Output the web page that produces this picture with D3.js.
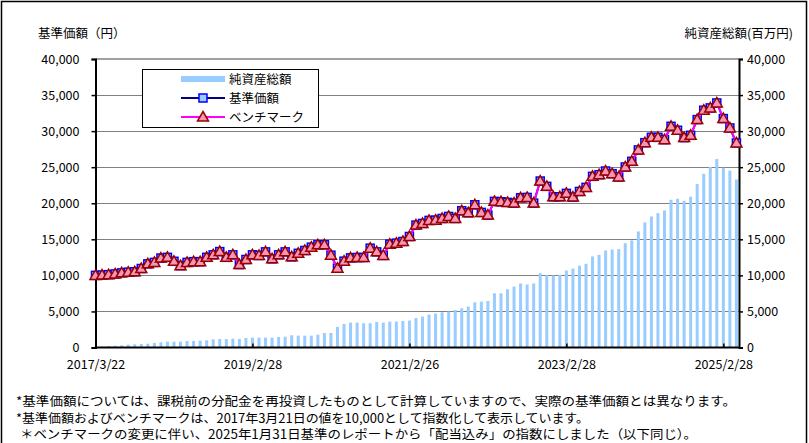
<!DOCTYPE html>
<html>
<head>
<meta charset="utf-8">
<script src="https://cdn.jsdelivr.net/npm/d3@7"></script>
<style>
  body { margin: 0; background: #fff; }
  text { font-family: "Noto Sans CJK JP", "Noto Sans", sans-serif; fill: #000; }
</style>
</head>
<body>
<div id="chart"></div>
<script>
// monthly values, first point is the launch date, then month ends up to 2025/4
const navValues = [
  10000, 10050, 10100, 10200, 10350, 10450, 10500, 10950, 11600, 11800,
  12400, 12500, 11950, 11350, 11800, 11900, 11900, 12500, 12850, 13300,
  12500, 12850, 11500, 12200, 12850, 12760, 13260, 12290, 12850, 13260,
  12570, 13060, 13450, 13910, 14240, 14240, 12800, 11000, 11970, 12430,
  12480, 12480, 13770, 13260, 12760, 14330, 14470, 14700, 15390, 16970,
  17200, 17620, 17660, 17890, 18170, 17890, 18960, 18680, 19790, 18730,
  18360, 20260, 20210, 20120, 20020, 20760, 20810, 20020, 23080, 22340,
  20900, 20900, 21370, 20850, 21640, 22200, 23730, 23960, 24470, 24100,
  23640, 25030, 25810, 27390, 28400, 29140, 29140, 28820, 30670, 30120,
  29100, 29420, 31600, 32900, 33220, 33910, 31740, 30440, 28360
];
const benchValues = [
  10000, 10050, 10100, 10200, 10350, 10450, 10500, 10950, 11600, 11800,
  12400, 12500, 11950, 11350, 11800, 11900, 11900, 12500, 12850, 13300,
  12500, 12850, 11500, 12200, 12850, 12760, 13260, 12290, 12850, 13260,
  12570, 13060, 13450, 13910, 14240, 14240, 12800, 11000, 11970, 12430,
  12480, 12480, 13770, 13260, 12760, 14330, 14470, 14700, 15390, 16970,
  17200, 17620, 17660, 17890, 18170, 17890, 18960, 18680, 19790, 18730,
  18360, 20260, 20210, 20120, 20020, 20760, 20810, 20020, 23080, 22340,
  20900, 20900, 21370, 20850, 21640, 22200, 23730, 23960, 24470, 24100,
  23640, 25030, 25810, 27390, 28400, 29140, 29140, 28820, 30670, 30120,
  29100, 29420, 31600, 32900, 33220, 33910, 31740, 30440, 28360
];
// 純資産総額（百万円）
const assetValues = [
  0, 120, 200, 250, 300, 390, 440, 490, 530, 630,
  720, 810, 810, 810, 900, 900, 950, 1000, 1130, 1180,
  1180, 1230, 1180, 1320, 1370, 1370, 1370, 1370, 1460, 1500,
  1690, 1640, 1640, 1640, 1780, 2010, 2010, 2850, 3260, 3450,
  3450, 3360, 3360, 3540, 3450, 3590, 3590, 3680, 3730, 4080,
  4280, 4560, 4700, 4880, 4980, 5200, 5440, 5670, 6270, 6360,
  6450, 7520, 7520, 8080, 8450, 8870, 8730, 8870, 10300, 10020,
  9980, 10070, 10670, 10950, 11340, 11600, 12620, 12850, 13450, 13590,
  13640, 14460, 14840, 16090, 17340, 18170, 18630, 19000, 20480, 20620,
  20340, 20900, 22660, 24090, 25020, 26130, 24930, 24510, 23300
];
const categories = ["2017/3/22"].concat(
  d3.timeMonth.range(new Date(2017, 2, 1), new Date(2025, 4, 1)).map(d3.timeFormat("%Y/%-m"))
);
const xTickCats = ["2017/3/22", "2019/2", "2021/2", "2023/2", "2025/2"];
const xTickLabels = ["2017/3/22", "2019/2/28", "2021/2/26", "2023/2/28", "2025/2/28"];
const yTicks = [0, 5000, 10000, 15000, 20000, 25000, 30000, 35000, 40000];
const legendLabels = ["純資産総額", "基準価額", "ベンチマーク"];
const notes = [
  "*基準価額については、課税前の分配金を再投資したものとして計算していますので、実際の基準価額とは異なります。",
  "*基準価額およびベンチマークは、2017年3月21日の値を10,000として指数化して表示しています。",
  "＊ベンチマークの変更に伴い、2025年1月31日基準のレポートから「配当込み」の指数にしました（以下同じ）。"
];

const W = 809, H = 443;
const plot = {left: 95.5, right: 739, top: 59, bottom: 347.5};

const svg = d3.select("#chart")
  .append("svg")
    .attr("width", W)
    .attr("height", H);

// outer frame
svg.append("rect")
  .attr("x", 1.5).attr("y", 1.5)
  .attr("width", 805).attr("height", 470)
  .attr("fill", "none").attr("stroke", "#000").attr("stroke-width", 1.5);

const x = d3.scalePoint()
  .domain(categories)
  .range([plot.left, plot.left + 6.54 * (categories.length - 1)]);

const y = d3.scaleLinear().domain([0, 40000]).range([plot.bottom, plot.top]);
const y2 = d3.scaleLinear().domain([0, 40000]).range([plot.bottom, plot.top]);

// gridlines
svg.append("g")
  .selectAll("line")
  .data(yTicks.filter(d => d > 0 && d < 40000))
  .join("line")
    .attr("x1", plot.left).attr("x2", plot.right)
    .attr("y1", d => Math.round(y(d)) + 0.5).attr("y2", d => Math.round(y(d)) + 0.5)
    .attr("stroke", "#000").attr("stroke-width", 1)
    .attr("stroke-dasharray", "1,1");

// top border of plot
svg.append("line")
  .attr("x1", plot.left).attr("x2", plot.right)
  .attr("y1", plot.top).attr("y2", plot.top)
  .attr("stroke", "#808080").attr("stroke-width", 1.5);

// bars (right axis)
svg.append("g")
  .selectAll("rect")
  .data(assetValues.map((v, i) => ({c: categories[i], v})))
  .join("rect")
    .attr("x", d => x(d.c) - 1.5)
    .attr("y", d => y2(d.v))
    .attr("width", 3)
    .attr("height", d => plot.bottom - y2(d.v))
    .attr("fill", "#99ccff");

// left axis
const leftAxis = svg.append("g")
  .attr("transform", `translate(${plot.left},0)`)
  .call(d3.axisLeft(y).tickValues(yTicks).tickSize(4).tickPadding(12).tickFormat(d3.format(",")));
leftAxis.select(".domain").attr("stroke", "#000").attr("stroke-width", 2);
leftAxis.selectAll(".tick line").attr("stroke", "#000").attr("stroke-width", 1.5);
leftAxis.selectAll("text").style("font-size", "12.5px").attr("fill", "#000");

// right axis
const rightAxis = svg.append("g")
  .attr("transform", `translate(${plot.right},0)`)
  .call(d3.axisRight(y2).tickValues(yTicks).tickSize(4).tickPadding(4).tickFormat(d3.format(",")));
rightAxis.select(".domain").attr("stroke", "#000").attr("stroke-width", 2);
rightAxis.selectAll(".tick line").attr("stroke", "#000").attr("stroke-width", 1.5);
rightAxis.selectAll("text").style("font-size", "12.5px").attr("fill", "#000");

// bottom axis
const xAxis = svg.append("g")
  .attr("transform", `translate(0,${plot.bottom})`)
  .call(d3.axisBottom(x).tickValues(xTickCats).tickSize(-4).tickPadding(13)
    .tickFormat((d, i) => xTickLabels[i]));
xAxis.select(".domain").attr("stroke", "#000").attr("stroke-width", 2)
  .attr("d", `M${plot.left},0H${plot.right}`);
xAxis.selectAll(".tick line").attr("stroke", "#000").attr("stroke-width", 1.5);
xAxis.selectAll("text").style("font-size", "12.5px").attr("fill", "#000");

// axis titles
svg.append("text").attr("x", 38).attr("y", 38).style("font-size", "12.5px").text("基準価額（円）");
svg.append("text").attr("x", 793).attr("y", 38).attr("text-anchor", "end")
  .style("font-size", "12.5px").text("純資産総額(百万円)");

// series
const navData = navValues.map((v, i) => ({c: categories[i], v}));
const benchData = benchValues.map((v, i) => ({c: categories[i], v}));
const line = d3.line().x(d => x(d.c)).y(d => y(d.v));
const triPath = "M0,-5.5L5.5,4L-5.5,4Z";

svg.append("path").datum(navData)
  .attr("d", line).attr("fill", "none")
  .attr("stroke", "#000080").attr("stroke-width", 2);
svg.append("g").selectAll("rect")
  .data(navData)
  .join("rect")
    .attr("x", d => x(d.c) - 4).attr("y", d => y(d.v) - 4)
    .attr("width", 8).attr("height", 8)
    .attr("fill", "#99ccff").attr("stroke", "#0000ff").attr("stroke-width", 1.5);

svg.append("path").datum(benchData)
  .attr("d", line).attr("fill", "none")
  .attr("stroke", "#ff00ff").attr("stroke-width", 2);
svg.append("g").selectAll("path")
  .data(benchData)
  .join("path")
    .attr("d", triPath)
    .attr("transform", d => `translate(${x(d.c)},${y(d.v)})`)
    .attr("fill", "#f596b4").attr("stroke", "#990000").attr("stroke-width", 1.5);

// legend
const legend = svg.append("g");
legend.append("rect")
  .attr("x", 142.5).attr("y", 69.5).attr("width", 176).attr("height", 58)
  .attr("fill", "#fff").attr("stroke", "#000").attr("stroke-width", 1);
const rowY = [79, 98, 117];
legend.append("rect").attr("x", 181).attr("y", rowY[0] - 3).attr("width", 44).attr("height", 6).attr("fill", "#99ccff");
legend.append("line").attr("x1", 181).attr("x2", 225).attr("y1", rowY[1]).attr("y2", rowY[1])
  .attr("stroke", "#000080").attr("stroke-width", 2);
legend.append("rect").attr("x", 199).attr("y", rowY[1] - 4).attr("width", 8).attr("height", 8)
  .attr("fill", "#99ccff").attr("stroke", "#0000ff").attr("stroke-width", 1.5);
legend.append("line").attr("x1", 181).attr("x2", 225).attr("y1", rowY[2]).attr("y2", rowY[2])
  .attr("stroke", "#ff00ff").attr("stroke-width", 2);
legend.append("path").attr("d", triPath).attr("transform", `translate(203,${rowY[2]})`)
  .attr("fill", "#f596b4").attr("stroke", "#990000").attr("stroke-width", 1.5);
legend.selectAll("text.lbl")
  .data(legendLabels)
  .join("text")
    .attr("class", "lbl")
    .attr("x", 229).attr("y", (d, i) => rowY[i])
    .attr("dy", "0.36em")
    .style("font-size", "12.5px")
    .text(d => d);

// notes
const noteX = [16, 16, 20];
const noteW = [720, 573, 677];
const noteY = [401, 418, 434];
svg.selectAll("text.note")
  .data(notes)
  .join("text")
    .attr("class", "note")
    .attr("x", (d, i) => noteX[i]).attr("y", (d, i) => noteY[i])
    .attr("dy", "0.36em")
    .attr("textLength", (d, i) => noteW[i])
    .attr("lengthAdjust", "spacingAndGlyphs")
    .style("font-size", "12.5px")
    .text(d => d);
</script>
</body>
</html>
